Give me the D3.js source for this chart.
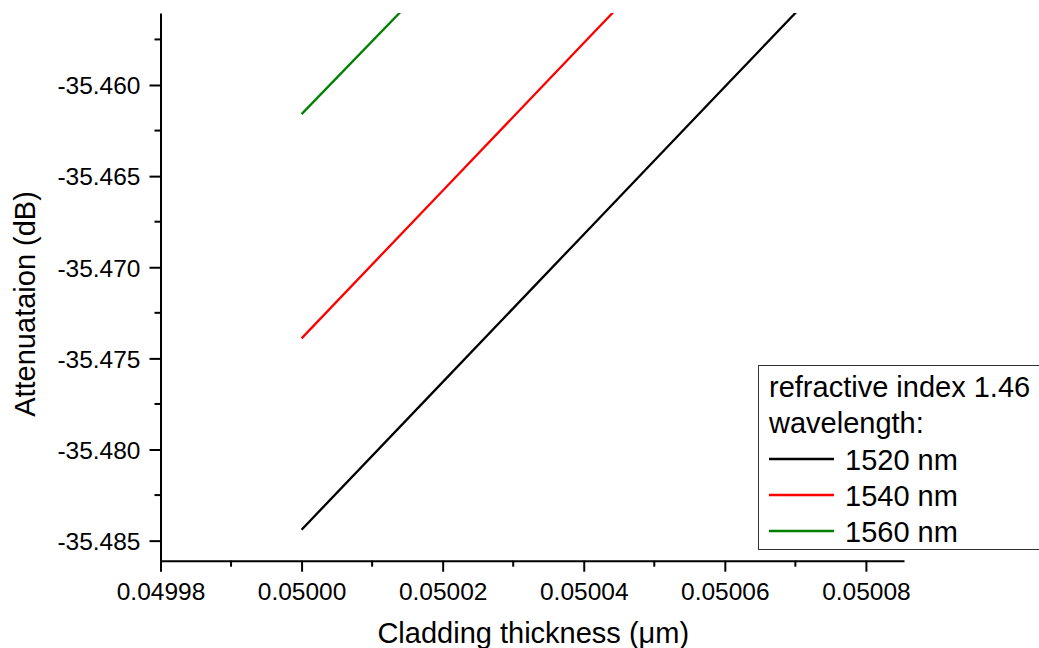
<!DOCTYPE html>
<html>
<head>
<meta charset="utf-8">
<script src="https://cdn.jsdelivr.net/npm/d3@7"></script>
<style>
  html, body { margin: 0; padding: 0; background: #fff; }
  svg { display: block; font-family: "Liberation Sans", Arial, sans-serif; }
</style>
</head>
<body>
<svg id="chart" width="1039" height="648"></svg>
<script>
// Cladding thickness (µm) at which attenuation was sampled
const thickness = [0.05000, 0.05002, 0.05004, 0.05006, 0.05008];

// Attenuation (dB) for each wavelength
const att1520 = [-35.4844, -35.4763, -35.4682, -35.4601, -35.4520];
const att1540 = [-35.4739, -35.4658, -35.4577, -35.4496];
const att1560 = [-35.4616, -35.4536];

const seriesNames = ["1520 nm", "1540 nm", "1560 nm"];
const seriesColors = ["#000000", "#ff0000", "#008000"];

const xTicks = [0.04998, 0.05000, 0.05002, 0.05004, 0.05006, 0.05008];
const xMinorTicks = [0.04999, 0.05001, 0.05003, 0.05005, 0.05007];
const yTicks = [-35.485, -35.480, -35.475, -35.470, -35.465, -35.460];
const yMinorTicks = [-35.4825, -35.4775, -35.4725, -35.4675, -35.4625, -35.4575];

const legendTitle = ["refractive index 1.46", "wavelength:"];

const svg = d3.select("#chart");

const x = d3.scaleLinear().domain([0.04998, 0.0500854]).range([160.5, 904]);
const y = d3.scaleLinear().domain([-35.4861, -35.45605]).range([560.7, 13]);

// clip region for the plot area
svg.append("defs").append("clipPath").attr("id", "plotClip")
  .append("rect")
  .attr("x", x.range()[0]).attr("y", y.range()[1])
  .attr("width", x.range()[1] - x.range()[0])
  .attr("height", y.range()[0] - y.range()[1]);

// data lines
const series = [att1520, att1540, att1560];
const line = d3.line().x(d => x(d[0])).y(d => y(d[1]));
const plot = svg.append("g").attr("clip-path", "url(#plotClip)");
series.forEach((vals, i) => {
  const pts = vals.map((v, j) => [thickness[j], v]);
  plot.append("path")
    .datum(pts)
    .attr("d", line)
    .attr("fill", "none")
    .attr("stroke", seriesColors[i])
    .attr("stroke-width", 2.3);
});

// bottom axis
const xAxis = svg.append("g").attr("transform", `translate(0,${y.range()[0]})`);
xAxis.call(d3.axisBottom(x).tickValues(xTicks).tickSize(11).tickSizeOuter(0)
  .tickFormat(d3.format(".5f")));
xAxis.append("g").selectAll("line").data(xMinorTicks).join("line")
  .attr("x1", d => x(d)).attr("x2", d => x(d))
  .attr("y1", 0).attr("y2", 6).attr("stroke", "#000").attr("stroke-width", 2);

// left axis
const yAxis = svg.append("g").attr("transform", `translate(${x.range()[0]},0)`);
yAxis.call(d3.axisLeft(y).tickValues(yTicks).tickSize(11).tickSizeOuter(0)
  .tickFormat(d3.format(".3f")));
yAxis.append("g").selectAll("line").data(yMinorTicks).join("line")
  .attr("y1", d => y(d)).attr("y2", d => y(d))
  .attr("x1", 0).attr("x2", -6).attr("stroke", "#000").attr("stroke-width", 2);

[xAxis, yAxis].forEach(g => {
  g.select(".domain").attr("stroke", "#000").attr("stroke-width", 2);
  g.selectAll(".tick line").attr("stroke", "#000").attr("stroke-width", 2);
  g.selectAll(".tick text").attr("fill", "#000")
    .style("font-size", "24.5px").style("font-family", "'Liberation Sans', Arial, sans-serif");
});
xAxis.selectAll(".tick text").attr("y", 22).attr("dy", "0.71em");
yAxis.selectAll(".tick text").attr("x", -20).attr("dy", "0.36em");
yAxis.selectAll(".tick text").text(d => d3.format(".3f")(d).replace("−", "-"));

// axis titles
svg.append("text")
  .attr("x", (x.range()[0] + x.range()[1]) / 2 + 1)
  .attr("y", 643)
  .attr("text-anchor", "middle")
  .style("font-size", "29px")
  .text("Cladding thickness (\u03bcm)");

svg.append("text")
  .attr("transform", "translate(35,304) rotate(-90)")
  .attr("text-anchor", "middle")
  .style("font-size", "29px")
  .text("Attenuataion (dB)");

// legend
const legend = svg.append("g");
legend.append("rect")
  .attr("x", 758.5).attr("y", 365.5)
  .attr("width", 300).attr("height", 184)
  .attr("fill", "#fff").attr("stroke", "#333").attr("stroke-width", 1);
const rowBase = [397, 433, 470, 506, 542];
legendTitle.forEach((t, i) => {
  legend.append("text").attr("x", 769).attr("y", rowBase[i])
    .style("font-size", "29px").text(t);
});
seriesNames.forEach((name, i) => {
  const by = rowBase[i + 2];
  legend.append("line")
    .attr("x1", 769).attr("x2", 834)
    .attr("y1", by - 11).attr("y2", by - 11)
    .attr("stroke", seriesColors[i]).attr("stroke-width", 2.3);
  legend.append("text").attr("x", 845).attr("y", by)
    .style("font-size", "29px").text(name);
});
</script>
</body>
</html>
